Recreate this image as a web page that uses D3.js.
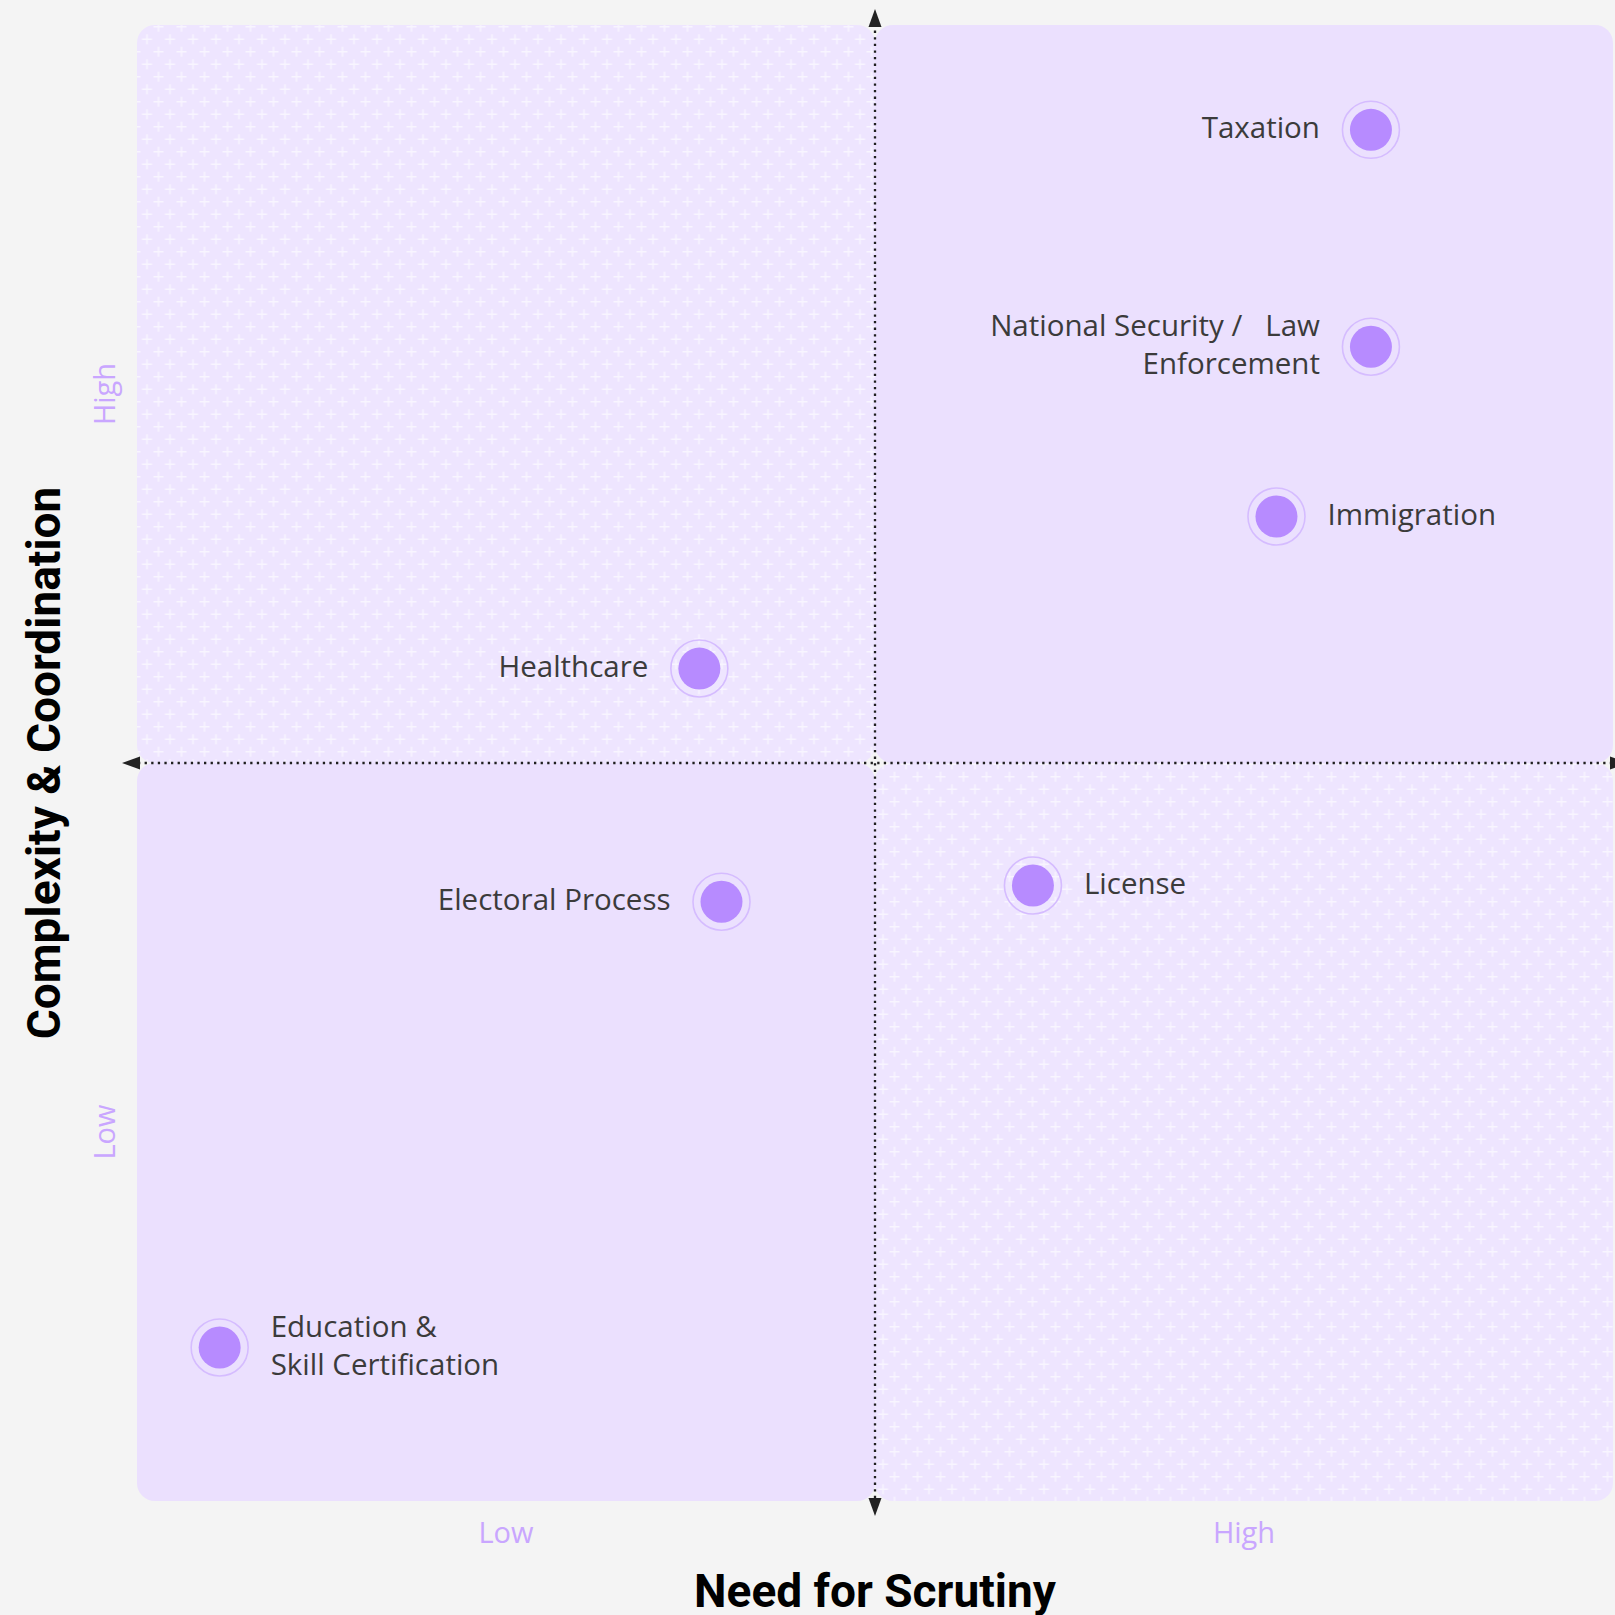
<!DOCTYPE html>
<html>
<head>
<meta charset="utf-8">
<script src="https://cdn.jsdelivr.net/npm/d3@7"></script>
<style>
  body { margin: 0; background: #f4f4f4; }
  svg { display: block; }
  .pt-label { font-family: "Open Sans", sans-serif; font-size: 29.5px; fill: #3b3b3b; white-space: pre; }
  .tick-label { font-family: "Open Sans", sans-serif; font-size: 29px; fill: #c9a6ff; }
  .axis-title { font-family: Roboto, sans-serif; font-size: 46px; font-weight: 700; fill: #000; }
</style>
</head>
<body>
<svg id="chart"></svg>
<script>
// data
const names = ["Taxation", "National Security /   Law|Enforcement", "Immigration", "Healthcare",
               "Electoral Process", "License", "Education &|Skill Certification"];
const scrutiny = [0.836, 0.836, 0.772, 0.381, 0.396, 0.607, 0.056];
const complexity = [0.929, 0.782, 0.667, 0.564, 0.406, 0.417, 0.104];
const labelSide = ["left", "left", "right", "left", "left", "right", "right"];
const xTicks = ["Low", "High"];
const yTicks = ["Low", "High"];

const W = 1615, H = 1615;
const plot = {left: 137, right: 1613, top: 25, bottom: 1501};

const svg = d3.select("#chart").attr("width", W).attr("height", H);

svg.append("rect").attr("width", W).attr("height", H).attr("fill", "#f4f4f4");

const x = d3.scaleLinear().domain([0, 1]).range([plot.left, plot.right]);
const y = d3.scaleLinear().domain([0, 1]).range([plot.bottom, plot.top]);

// cross pattern for the lighter quadrants
const defs = svg.append("defs");
const pat = defs.append("pattern")
  .attr("id", "crosses")
  .attr("patternUnits", "userSpaceOnUse")
  .attr("width", 23).attr("height", 25)
  .attr("x", plot.left + 4.5).attr("y", plot.top + 8);
pat.append("rect").attr("width", 23).attr("height", 25).attr("fill", "#eee5ff");
function cross(cx, cy){
  pat.append("path")
    .attr("d", `M${cx-5},${cy}H${cx+5}M${cx},${cy-5}V${cy+5}`)
    .attr("stroke", "#ffffff").attr("stroke-opacity", 0.6).attr("stroke-width", 1.4);
}
cross(5.5, 6.25);
cross(17, 18.75);

// quadrants
const quads = [
  {x0: 0, x1: 0.5, y0: 0.5, y1: 1, fill: "url(#crosses)"},
  {x0: 0.5, x1: 1, y0: 0.5, y1: 1, fill: "#ebe0fe"},
  {x0: 0, x1: 0.5, y0: 0, y1: 0.5, fill: "#ebe0fe"},
  {x0: 0.5, x1: 1, y0: 0, y1: 0.5, fill: "url(#crosses)"}
];
svg.append("g").selectAll("rect").data(quads).join("rect")
  .attr("x", d => x(d.x0))
  .attr("y", d => y(d.y1))
  .attr("width", d => x(d.x1) - x(d.x0))
  .attr("height", d => y(d.y0) - y(d.y1))
  .attr("rx", 18).attr("ry", 18)
  .attr("fill", d => d.fill);

// dotted axes through the middle
const cx = x(0.5), cy = y(0.5);
const axes = svg.append("g");
axes.append("line")
  .attr("x1", cx).attr("x2", cx).attr("y1", 24).attr("y2", 1500)
  .attr("stroke", "#1f1f1f").attr("stroke-width", 2.3).attr("stroke-dasharray", "2.3 4.3");
axes.append("line")
  .attr("x1", 138).attr("x2", 1612).attr("y1", cy).attr("y2", cy)
  .attr("stroke", "#1f1f1f").attr("stroke-width", 2.3).attr("stroke-dasharray", "2.3 4.3");

// arrow heads
const ah = 18, aw = 6.5;
const arrows = [
  `M${cx},9 L${cx-aw},${9+ah} L${cx+aw},${9+ah}Z`,
  `M${cx},1516 L${cx-aw},${1516-ah} L${cx+aw},${1516-ah}Z`,
  `M122,${cy} L${122+ah},${cy-aw} L${122+ah},${cy+aw}Z`,
  `M1628,${cy} L${1628-ah},${cy-aw} L${1628-ah},${cy+aw}Z`
];
axes.selectAll("path").data(arrows).join("path").attr("d", d => d).attr("fill", "#222");

// tick labels
svg.append("g").selectAll("text").data(xTicks).join("text")
  .attr("class", "tick-label")
  .attr("x", (d, i) => x(0.25 + i * 0.5))
  .attr("y", 1543)
  .attr("text-anchor", "middle")
  .text(d => d);

svg.append("g").selectAll("text").data(yTicks).join("text")
  .attr("class", "tick-label")
  .attr("transform", (d, i) => `translate(115,${y(0.25 + i * 0.5)}) rotate(-90)`)
  .attr("text-anchor", "middle")
  .text(d => d);

// axis titles
svg.append("text").attr("class", "axis-title")
  .attr("x", cx).attr("y", 1607)
  .attr("text-anchor", "middle")
  .text("Need for Scrutiny");

svg.append("text").attr("class", "axis-title")
  .attr("transform", `translate(60,${cy}) rotate(-90)`)
  .attr("text-anchor", "middle")
  .text("Complexity & Coordination");

// points
const pts = names.map((n, i) => ({name: n, sx: scrutiny[i], cy: complexity[i], side: labelSide[i]}));

const g = svg.append("g").selectAll("g").data(pts).join("g")
  .attr("transform", d => `translate(${x(d.sx)},${y(d.cy)})`);

g.append("circle").attr("r", 28.5)
  .attr("fill", "none").attr("stroke", "#d5bcff").attr("stroke-width", 1.6);
g.append("circle").attr("r", 21).attr("fill", "#b78bff");

g.each(function(d){
  const lines = d.name.split("|");
  const t = d3.select(this).append("text")
    .attr("class", "pt-label")
    .attr("text-anchor", d.side === "left" ? "end" : "start");
  const lh = 38;
  lines.forEach(function(l, k){
    t.append("tspan")
      .attr("x", d.side === "left" ? -51 : 51)
      .attr("y", (k - (lines.length - 1) / 2) * lh - 2)
      .attr("dy", "0.35em")
      .text(l);
  });
});
</script>
</body>
</html>
